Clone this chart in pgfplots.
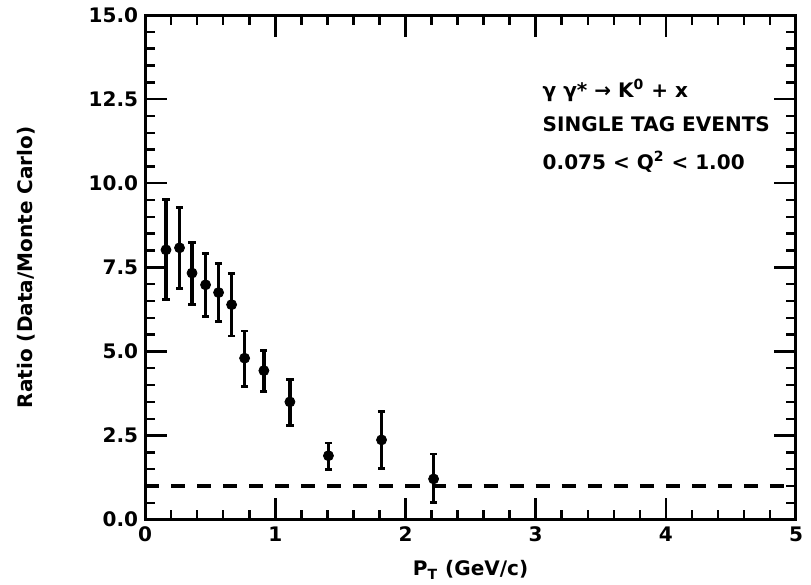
\documentclass[border=0pt]{standalone}
\usepackage{fontspec}
\setmainfont{DejaVu Sans}
\usepackage{pgfplots}
\pgfplotsset{compat=1.18}

% Data/Monte Carlo ratio versus transverse momentum
\begin{document}
\begin{tikzpicture}[font=\bfseries]
\useasboundingbox (-72.5pt,-32.5pt) rectangle (332.5pt,259.5pt);
\begin{axis}[
  at={(0,0)}, anchor=south west,
  width=325pt, height=252pt, scale only axis,
  xmin=0, xmax=5, ymin=0, ymax=15,
  xtick={0,1,2,3,4,5}, minor x tick num=4,
  ytick={0,2.5,5,7.5,10,12.5,15}, minor y tick num=4,
  major tick length=11pt, minor tick length=5pt,
  axis line style={line width=1.5pt},
  tick style={line width=1.2pt, black},
  /pgf/number format/assume math mode=true,
  ticklabel style={font=\bfseries},
  yticklabel style={/pgf/number format/fixed, /pgf/number format/fixed zerofill, /pgf/number format/precision=1},
  xticklabel style={/pgf/number format/fixed, /pgf/number format/precision=0},
  xlabel={P\textsubscript{T} (GeV/c)},
  ylabel={Ratio (Data/Monte Carlo)},
  ylabel style={yshift=20pt},
  xlabel style={yshift=-2.5pt},
  clip=false,
]
\addplot[black, line width=2pt, dash pattern=on 7pt off 6pt] coordinates {(0,1) (5,1)};

\addplot[black, only marks, mark=*, mark size=2.5pt,
  error bars/.cd, y dir=both, y explicit,
  error bar style={line width=1.8pt},
  error mark options={rotate=90, mark size=1.8pt, line width=1.4pt}]
  table[x=x, y=y, y error plus=ep, y error minus=em] {
  x      y     ep    em
  0.16   8.02  1.49  1.48
  0.264  8.08  1.21  1.21
  0.36   7.33  0.91  0.94
  0.464  6.98  0.93  0.93
  0.564  6.75  0.86  0.86
  0.664  6.39  0.92  0.93
  0.764  4.80  0.81  0.84
  0.912  4.43  0.59  0.63
  1.112  3.50  0.67  0.69
  1.408  1.90  0.38  0.41
  1.816  2.37  0.85  0.84
  2.216  1.21  0.74  0.71
};

\node[anchor=west] at (axis cs:3.0,12.76) {γ γ* → K\textsuperscript{0} + x};
\node[anchor=west] at (axis cs:3.0,11.75) {SINGLE TAG EVENTS};
\node[anchor=west] at (axis cs:3.0,10.64) {0.075 < Q\textsuperscript{2} < 1.00};
\end{axis}
\end{tikzpicture}
\end{document}
